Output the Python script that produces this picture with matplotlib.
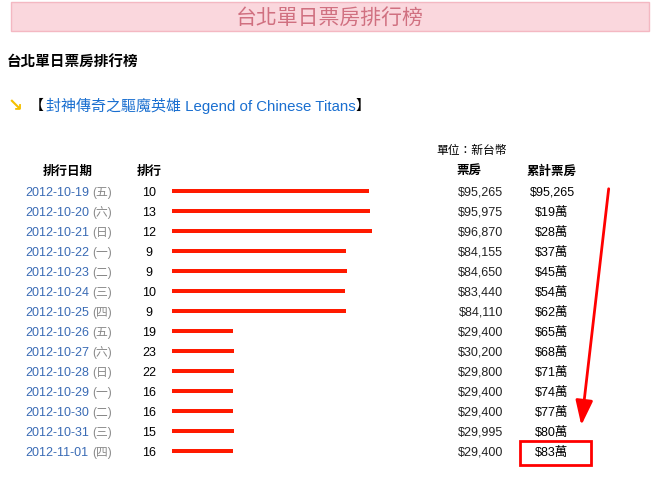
import matplotlib
matplotlib.use("Agg")
import matplotlib.pyplot as plt
from matplotlib.patches import Rectangle, FancyArrowPatch

plt.rcParams["font.family"] = ["Liberation Sans", "Noto Sans CJK TC"]

dates = ["2012-10-19", "2012-10-20", "2012-10-21", "2012-10-22", "2012-10-23", "2012-10-24", "2012-10-25",
         "2012-10-26", "2012-10-27", "2012-10-28", "2012-10-29", "2012-10-30", "2012-10-31", "2012-11-01"]
weekdays = ["五", "六", "日", "一", "二", "三", "四", "五", "六", "日", "一", "二", "三", "四"]
ranks = [10, 13, 12, 9, 9, 10, 9, 19, 23, 22, 16, 16, 15, 16]
gross = [95265, 95975, 96870, 84155, 84650, 83440, 84110, 29400, 30200, 29800, 29400, 29400, 29995, 29400]
cumulative = ["$95,265", "$19萬", "$28萬", "$37萬", "$45萬", "$54萬", "$62萬",
              "$65萬", "$68萬", "$71萬", "$74萬", "$77萬", "$80萬", "$83萬"]

W, H = 657, 486
fig = plt.figure(figsize=(W / 100, H / 100), dpi=100)
ax = fig.add_axes([0, 0, 1, 1])
ax.set_xlim(0, W)
ax.set_ylim(H, 0)
ax.axis("off")

ax.add_patch(Rectangle((11, 2), 638, 29, facecolor="#fad7dd", edgecolor="#f4b8c2", lw=1))
ax.text(330, 18, "台北單日票房排行榜", ha="center", va="center", fontsize=15, color="#d07080")
ax.text(7, 63, "台北單日票房排行榜", ha="left", va="center", fontsize=10.5, fontweight="bold", color="black")
ax.text(8, 106, "↘", ha="left", va="center", fontsize=13, color="#f5c000", fontweight="bold", family="DejaVu Sans")
ax.text(30, 106, "【", ha="left", va="center", fontsize=10, color="black")
ax.text(46, 106, "封神傳奇之驅魔英雄 Legend of Chinese Titans", ha="left", va="center", fontsize=10.8, color="#1a6fd0")
ax.text(356, 106, "】", ha="left", va="center", fontsize=10, color="black")

ax.text(436, 151, "單位：新台幣", ha="left", va="center", fontsize=8.5)
for x, t in [(68, "排行日期"), (149, "排行"), (469, "票房"), (552, "累計票房")]:
    ax.text(x, 172, t, ha="center", va="center", fontsize=9, fontweight="bold")

y0, dy = 191, 20
ys = [y0 + i * dy for i in range(len(dates))]
scale = 197 / 95265
ax.barh(ys, [g * scale for g in gross], left=172, height=4, color="#ff1a00")
for y, d, w, r, g, c in zip(ys, dates, weekdays, ranks, gross, cumulative):
    ty = y + 1.5
    ax.text(25, ty, d, ha="left", va="center", fontsize=9, color="#3a6bb5")
    ax.text(92, ty, f"({w})", ha="left", va="center", fontsize=8.5, color="#888888")
    ax.text(149, ty, str(r), ha="center", va="center", fontsize=9)
    ax.text(503, ty, f"${g:,}", ha="right", va="center", fontsize=9, color="#222222")
    ax.text(552, ty, c, ha="center", va="center", fontsize=9)

ax.add_patch(Rectangle((520, 441), 71, 24, fill=False, edgecolor="#ff0000", lw=2))
ax.add_patch(FancyArrowPatch((609, 186), (581, 428), arrowstyle="-|>,head_length=10,head_width=3.5",
                             color="#ff0000", lw=2, mutation_scale=1.5))

fig.savefig("out.png", dpi=100)
